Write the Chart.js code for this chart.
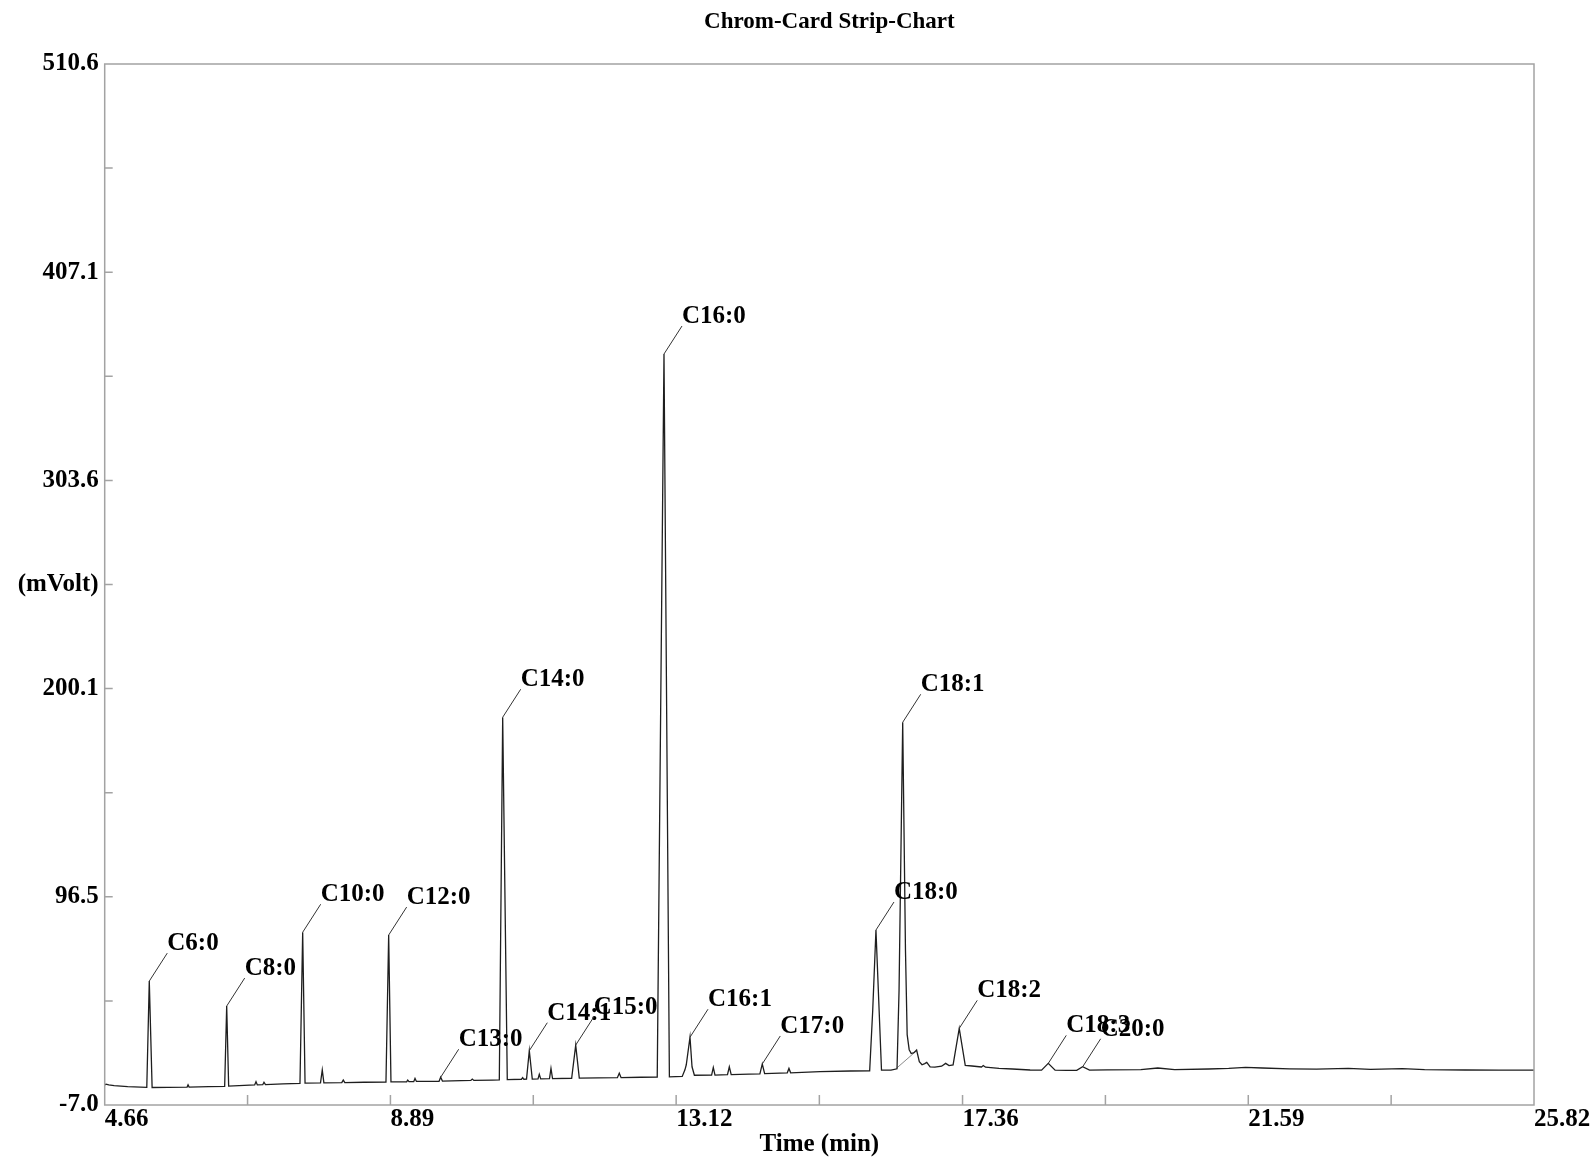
<!DOCTYPE html>
<html>
<head>
<meta charset="utf-8">
<title>Chrom-Card Strip-Chart</title>
<script src="https://cdn.jsdelivr.net/npm/chart.js@4/dist/chart.umd.min.js"></script>
<style>
	html, body { margin: 0; padding: 0; background: #fff; }
	#wrap { width: 1594px; height: 1164px; }
</style>
</head>
<body>
<div id="wrap"><canvas id="chart" width="1594" height="1164"></canvas></div>
<script>
// Detector trace (time in min, signal in mV)
const traceTime = [
	4.66, 4.68, 4.72, 4.80, 5.00, 5.283, 5.320, 5.362, 5.60, 5.88, 5.894, 5.91,
	6.20, 6.436, 6.466, 6.495, 6.88, 6.900, 6.92, 7.00, 7.018, 7.04, 7.30,
	7.551, 7.591, 7.626, 7.855, 7.881, 7.905, 8.17, 8.192, 8.215, 8.50,
	8.824, 8.864, 8.898, 9.13, 9.146, 9.165, 9.235, 9.254, 9.275, 9.61, 9.634, 9.66,
	10.08, 10.102, 10.125, 10.40, 10.502, 10.552, 10.620, 10.83, 10.848, 10.865,
	10.905, 10.946, 10.99, 11.075, 11.094, 11.115, 11.245, 11.267, 11.29,
	11.573, 11.633, 11.686, 12.25, 12.278, 12.305, 12.60, 12.84, 12.940, 13.02,
	13.21, 13.25, 13.27, 13.325, 13.355, 13.39, 13.645, 13.670, 13.695,
	13.88, 13.907, 13.935, 14.20, 14.36, 14.395, 14.43, 14.765, 14.79, 14.815,
	15.25, 15.70, 15.985, 16.03, 16.078, 16.125, 16.16, 16.30,
	16.39, 16.42, 16.474, 16.515, 16.54, 16.57, 16.60, 16.64, 16.68, 16.72,
	16.76, 16.80, 16.83, 16.88, 16.95, 17.05, 17.11, 17.16, 17.22, 17.311, 17.40,
	17.50, 17.64, 17.667, 17.70, 17.90, 18.10, 18.36, 18.53, 18.629, 18.73,
	18.90, 19.05, 19.138, 19.24, 19.50, 20.00, 20.25, 20.50, 21.00, 21.30,
	21.55, 21.80, 22.20, 22.60, 23.07, 23.40, 23.87, 24.20, 24.80, 25.30, 25.82,
];
const traceMv = [
	3.0, 3.4, 3.0, 2.6, 2.1, 1.8, 54.6, 1.7, 1.8, 1.9, 3.0, 1.9,
	2.1, 2.3, 42.2, 2.4, 3.0, 4.6, 3.0, 3.1, 4.3, 3.1, 3.5,
	3.8, 78.9, 3.9, 4.0, 10.4, 4.0, 4.1, 5.4, 4.1, 4.3,
	4.4, 77.5, 4.5, 4.5, 5.4, 4.6, 4.6, 6.2, 4.7, 4.8, 6.8, 4.9,
	5.2, 5.9, 5.2, 5.4, 5.5, 185.8, 5.6, 5.8, 6.6, 5.8,
	5.9, 20.0, 5.9, 6.0, 8.3, 6.0, 6.1, 11.2, 6.1,
	6.3, 22.8, 6.4, 6.6, 8.8, 6.6, 6.8, 6.9, 366.4, 7.0,
	7.2, 10.5, 13.0, 26.7, 12.0, 7.8, 7.9, 11.7, 7.9,
	8.1, 12.0, 8.1, 8.4, 8.5, 13.4, 8.6, 9.0, 11.2, 9.0,
	9.6, 9.9, 10.0, 40.0, 80.0, 40.0, 10.3, 10.3,
	11.0, 50.0, 183.3, 70.0, 28.0, 20.5, 18.6, 19.0, 20.3, 14.5,
	13.0, 13.6, 14.2, 12.0, 11.8, 12.3, 13.7, 12.6, 12.9, 31.1, 12.7,
	12.4, 11.9, 12.6, 11.8, 11.2, 10.9, 10.4, 10.3, 13.7, 10.3,
	10.2, 10.2, 12.0, 10.3, 10.5, 10.6, 11.4, 10.6, 10.9, 11.2,
	11.7, 11.4, 11.0, 10.8, 11.2, 10.7, 11.1, 10.6, 10.4, 10.3, 10.3,
];

// Integration baseline drawn under the C18:1 tail
const integBaseTime = [16.38, 16.68];
const integBaseMv = [11.2, 20.0];

// Identified peaks (apex times are points of the trace)
const peakNames = [
	"C6:0", "C8:0", "C10:0", "C12:0", "C13:0", "C14:0", "C14:1", "C15:0",
	"C16:0", "C16:1", "C17:0", "C18:0", "C18:1", "C18:2", "C18:3", "C20:0",
];
const peakTimes = [
	5.320, 6.466, 7.591, 8.864, 9.634, 10.552, 10.946, 11.633,
	12.940, 13.325, 14.395, 16.078, 16.474, 17.311, 18.629, 19.138,
];

// Axis ticks
const xTickValues = [4.66, 6.775, 8.89, 11.005, 13.12, 15.24, 17.36, 19.475, 21.59, 23.705, 25.82];
const xTickLabels = ["4.66", "", "8.89", "", "13.12", "", "17.36", "", "21.59", "", "25.82"];
const yTickValues = [-7.0, 44.76, 96.52, 148.28, 200.04, 251.8, 303.56, 355.32, 407.08, 458.84, 510.6];
const yTickLabels = ["-7.0", "", "96.5", "", "200.1", "(mVolt)", "303.6", "", "407.1", "", "510.6"];

const TITLE = "Chrom-Card Strip-Chart";
const FONT = '"Liberation Serif", "Times New Roman", serif';
const FRAME_COLOR = "#a3a3a3";

Chart.defaults.font.family = FONT;
Chart.defaults.color = "#000";

// Chart title, sitting a little right of the plot centre as in the original
const titlePlugin = {
	id: "stripTitle",
	afterDraw(chart) {
		const { ctx, chartArea: a } = chart;
		ctx.save();
		ctx.fillStyle = "#000";
		ctx.font = `bold 23px ${FONT}`;
		ctx.textAlign = "center";
		ctx.textBaseline = "middle";
		ctx.fillText(TITLE, (a.left + a.right) / 2 + 10, 22);
		ctx.restore();
	},
};

// Frame round the plot and short inward tick marks
const framePlugin = {
	id: "frame",
	afterDatasetsDraw(chart) {
		const { ctx, chartArea: a, scales } = chart;
		ctx.save();
		ctx.strokeStyle = FRAME_COLOR;
		ctx.lineWidth = 1.5;
		ctx.strokeRect(a.left, a.top, a.right - a.left, a.bottom - a.top);
		ctx.beginPath();
		scales.x.ticks.forEach((t, i) => {
			if (i === 0 || i === scales.x.ticks.length - 1) return;
			const px = scales.x.getPixelForTick(i);
			ctx.moveTo(px, a.bottom);
			ctx.lineTo(px, a.bottom - 10);
		});
		scales.y.ticks.forEach((t, i) => {
			if (i === 0 || i === scales.y.ticks.length - 1) return;
			const py = scales.y.getPixelForTick(i);
			ctx.moveTo(a.left, py);
			ctx.lineTo(a.left + 8, py);
		});
		ctx.stroke();
		ctx.restore();
	},
};

// Peak names with leader lines from each apex
const peakLabelPlugin = {
	id: "peakLabels",
	afterDatasetsDraw(chart) {
		const { ctx, scales } = chart;
		ctx.save();
		ctx.strokeStyle = "#333";
		ctx.lineWidth = 1;
		ctx.fillStyle = "#000";
		ctx.font = `bold 25px ${FONT}`;
		ctx.textAlign = "left";
		ctx.textBaseline = "alphabetic";
		peakNames.forEach((name, k) => {
			const idx = traceTime.indexOf(peakTimes[k]);
			const px = scales.x.getPixelForValue(traceTime[idx]);
			const py = scales.y.getPixelForValue(traceMv[idx]);
			const ex = px + 18;
			const ey = py - 28;
			ctx.beginPath();
			ctx.moveTo(px, py);
			ctx.lineTo(ex, ey);
			ctx.stroke();
			ctx.fillText(name, ex, ey - 3);
		});
		ctx.restore();
	},
};

new Chart(document.getElementById("chart").getContext("2d"), {
	type: "line",
	data: {
		datasets: [
			{
				label: "Signal",
				data: traceTime.map((t, i) => ({ x: t, y: traceMv[i] })),
				borderColor: "#1e1e1e",
				borderWidth: 1.3,
				pointRadius: 0,
				tension: 0,
				order: 1,
			},
			{
				label: "Baseline",
				data: integBaseTime.map((t, i) => ({ x: t, y: integBaseMv[i] })),
				borderColor: "#8a8a8a",
				borderWidth: 1,
				pointRadius: 0,
				order: 2,
			},
		],
	},
	options: {
		responsive: false,
		animation: false,
		events: [],
		layout: { padding: { left: 0, right: 60, top: 64, bottom: 0 } },
		scales: {
			x: {
				type: "linear",
				position: "bottom",
				min: 4.66,
				max: 25.82,
				afterBuildTicks: (s) => {
					s.ticks = xTickValues.map((v) => ({ value: v }));
				},
				afterFit: (s) => {
					s.height = 59;
					s.paddingLeft = 0;
					s.paddingRight = 0;
				},
				grid: { display: false, drawTicks: false },
				border: { display: false },
				ticks: {
					autoSkip: false,
					maxRotation: 0,
					align: "start",
					padding: 0,
					color: "#000",
					font: { size: 25, weight: "bold" },
					callback: (v, i) => xTickLabels[i],
				},
				title: {
					display: true,
					text: "Time (min)",
					color: "#000",
					font: { size: 25, weight: "bold" },
					padding: { top: 0, bottom: 4 },
				},
			},
			y: {
				type: "linear",
				position: "left",
				min: -7.0,
				max: 510.6,
				afterBuildTicks: (s) => {
					s.ticks = yTickValues.map((v) => ({ value: v }));
				},
				afterFit: (s) => {
					s.width = 104.7;
					s.paddingTop = 0;
					s.paddingBottom = 0;
				},
				grid: { display: false, drawTicks: false },
				border: { display: false },
				ticks: {
					autoSkip: false,
					padding: 6,
					color: "#000",
					font: { size: 25, weight: "bold" },
					callback: (v, i) => yTickLabels[i],
				},
			},
		},
		plugins: {
			legend: { display: false },
			tooltip: { enabled: false },
			title: { display: false },
		},
	},
	plugins: [titlePlugin, framePlugin, peakLabelPlugin],
});
</script>
</body>
</html>
